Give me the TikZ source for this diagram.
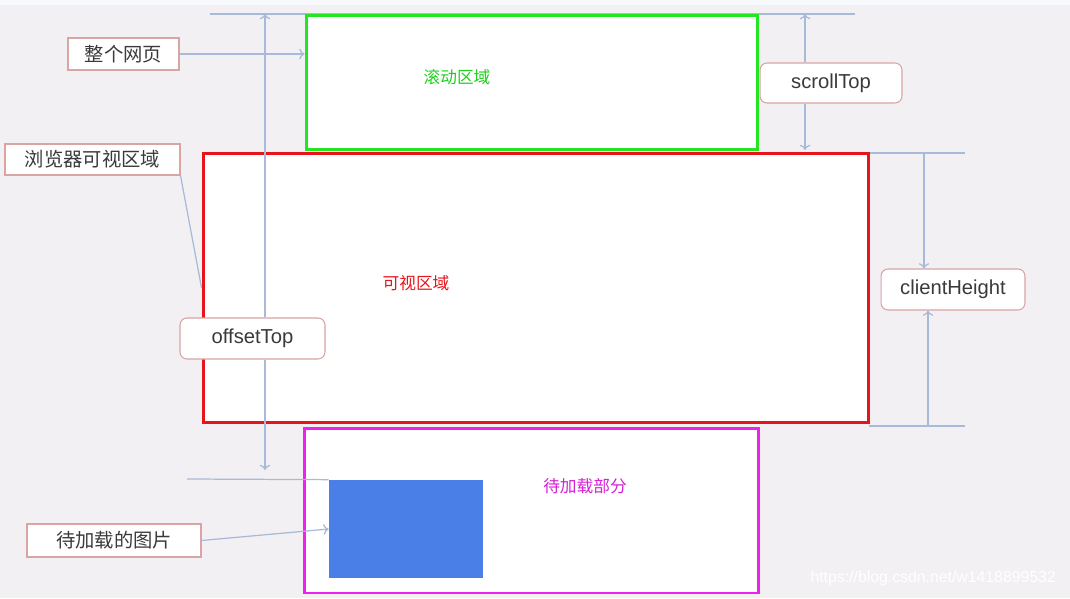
\documentclass[tikz,border=0pt]{standalone}
\usepackage{fontspec}
\setmainfont{Liberation Sans}
\newfontfamily\cjk{Noto Sans CJK SC}
\usetikzlibrary{positioning, arrows.meta}

\definecolor{bgcol}{HTML}{F3F0F3}
\definecolor{guidecol}{HTML}{A7BAD8}
\definecolor{labeledge}{HTML}{D8A4A4}
\definecolor{labeltext}{HTML}{3A3A3A}
\definecolor{scrollgreen}{HTML}{22E622}
\definecolor{viewred}{HTML}{E8141B}
\definecolor{lazymagenta}{HTML}{EE22EE}
\definecolor{imgblue}{HTML}{4A7FE8}

\tikzstyle{area} = [rectangle, draw, line width=1.7pt, fill=white, inner sep=0pt]
\tikzstyle{tag} = [rectangle, draw=labeledge, fill=white, line width=0.6pt, text=labeltext, inner sep=0pt, font=\fontsize{11}{13}\selectfont\cjk]
\tikzstyle{roundtag} = [tag, rounded corners=4pt, font=\fontsize{11.5}{13}\selectfont]
\tikzstyle{areatext} = [font=\fontsize{9.5}{11}\selectfont\cjk]
\tikzstyle{guide} = [draw=guidecol, line width=0.7pt]
\tikzstyle{arrow} = [guide, -{To[length=3pt, width=6pt]}]

\begin{document}
\begin{tikzpicture}[x=0.02cm, y=-0.02cm]

% Background
\fill[bgcol] (0,0) rectangle (1070,598);
\fill[white!60!guidecol!20] (0,0) rectangle (1070,5);
\useasboundingbox (0,0) rectangle (1070,598);

% Guide lines
\coordinate (topl) at (210,14);
\coordinate (topr) at (855,14);
\coordinate (viewtl) at (869,153);
\coordinate (viewtr) at (965,153);
\coordinate (viewbl) at (869,426);
\coordinate (viewbr) at (965,426);
\coordinate (imgl) at (187,479);
\draw[guide] (topl) -- (topr);
\draw[guide] (viewtl) -- (viewtr);
\draw[guide] (viewbl) -- (viewbr);

% Areas
\node (scroll) [area, draw=scrollgreen, minimum width=9.04cm, minimum height=2.7cm] at (532,82.5) {};
\node (view) [area, draw=viewred, minimum width=13.32cm, minimum height=5.4cm] at (536,288) {};
\node (lazy) [area, draw=lazymagenta, minimum width=9.1cm, minimum height=3.3cm] at (531.5,510.5) {};
\node (img) [rectangle, fill=imgblue, minimum width=3.08cm, minimum height=1.96cm] at (406,529) {};
\draw[guide] (imgl) -- (img.north west);

% Area texts
\node (scrolltext) [areatext, text=scrollgreen!90!black] at (457,77) {滚动区域};
\node (viewtext) [areatext, text=viewred] at (416,283) {可视区域};
\node (lazytext) [areatext, text=lazymagenta!90!black] at (585,486) {待加载部分};

% Tags
\node (page) [tag, minimum width=2.22cm, minimum height=0.64cm] at (123.5,54) {整个网页};
\node (browser) [tag, minimum width=3.5cm, minimum height=0.62cm] at (92.5,159.5) {浏览器可视区域};
\node (imgtag) [tag, minimum width=3.48cm, minimum height=0.66cm] at (114,540.5) {待加载的图片};
\node (scrolltop) [roundtag, minimum width=2.84cm, minimum height=0.8cm] at (831,83) {scrollTop};
\node (clientheight) [roundtag, minimum width=2.88cm, minimum height=0.82cm] at (953,289.5) {clientHeight};
\node (offsettop) [roundtag, minimum width=2.9cm, minimum height=0.82cm] at (252.5,338.5) {offsetTop};

% Measure arrows
\coordinate (otop) at (265,14);
\coordinate (obot) at (265,470);
\coordinate (stop) at (805,14);
\coordinate (sbot) at (805,150);
\coordinate (ctop) at (924,153);
\coordinate (cbot) at (928,426);
\draw[arrow] (offsettop.north -| otop) -- (otop);
\draw[arrow] (offsettop.south -| obot) -- (obot);
\draw[arrow] (scrolltop.north -| stop) -- (stop);
\draw[arrow] (scrolltop.south -| sbot) -- (sbot);
\draw[arrow] (ctop) -- (clientheight.north -| ctop);
\draw[arrow] (cbot) -- (clientheight.south -| cbot);

% Pointers
\draw[arrow] (page.east) -- (page.east -| scroll.west);
\draw[guide] (browser.south east) -- (view.west);
\draw[arrow] (imgtag.east) -- (img.west);

% Watermark
\node (mark) [text=white, font=\fontsize{9}{10}\selectfont, anchor=east] at (1062,578) {https://blog.csdn.net/w1418899532};

\end{tikzpicture}
\end{document}
